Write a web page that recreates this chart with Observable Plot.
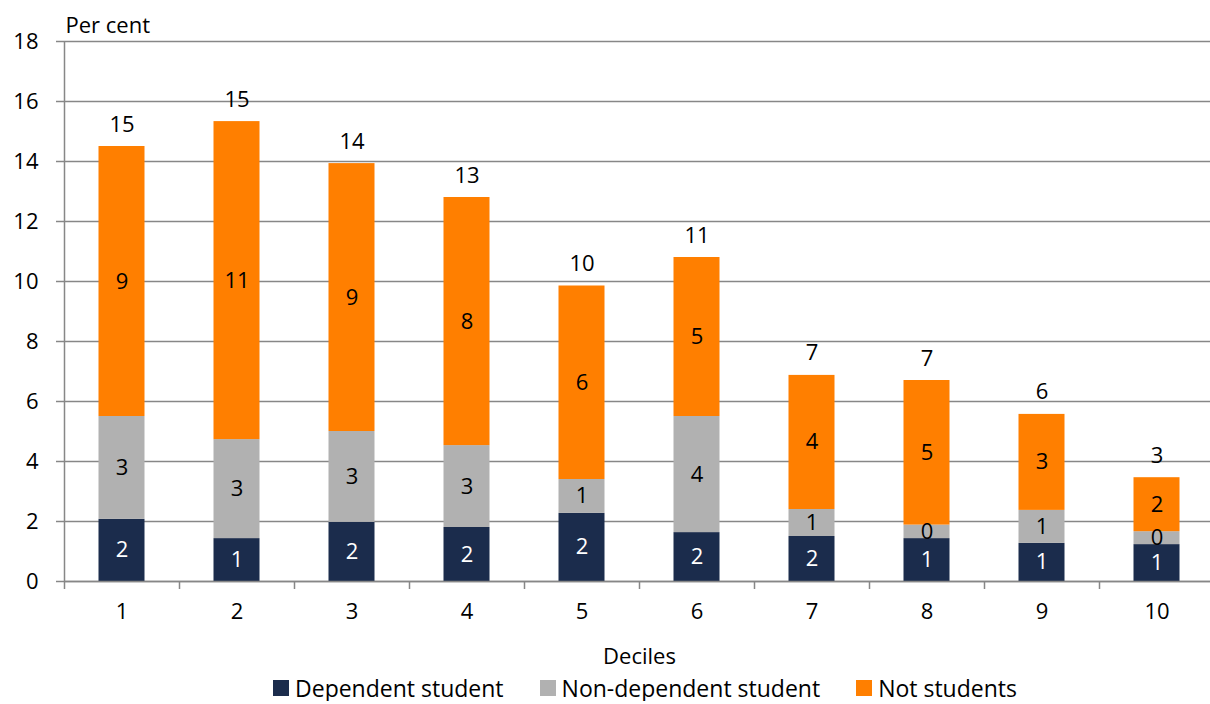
<!DOCTYPE html>
<html>
<head>
<meta charset="utf-8">
<script src="https://cdn.jsdelivr.net/npm/d3@7"></script>
<script src="https://cdn.jsdelivr.net/npm/@observablehq/plot@0.6"></script>
<style>
  body { margin: 0; background: #fff; font-family: "Open Sans", sans-serif; }
  #legend { display: flex; justify-content: center; gap: 36px; font-size: 23px; line-height: 26px; color: #000; padding-left: 80px; margin-top: 2px; }
  #legend span.item { display: flex; align-items: center; gap: 6px; }
  #legend span.sw { width: 16px; height: 16px; display: inline-block; }
</style>
</head>
<body>
<div id="chart"></div>
<div id="legend"></div>
<script>
const deciles = [1, 2, 3, 4, 5, 6, 7, 8, 9, 10];
const seriesNames = ["Dependent student", "Non-dependent student", "Not students"];
const dependent = [2.07, 1.43, 1.97, 1.8, 2.27, 1.63, 1.5, 1.43, 1.27, 1.23];
const nonDependent = [3.43, 3.3, 3.03, 2.73, 1.13, 3.87, 0.9, 0.45, 1.1, 0.43];
const notStudents = [9.0, 10.6, 8.93, 8.27, 6.45, 5.3, 4.47, 4.82, 3.2, 1.8];
const yTicks = [0, 2, 4, 6, 8, 10, 12, 14, 16, 18];
const colors = ["#1B2C4C", "#B1B1B1", "#FF7F00"];
const labelColors = ["#ffffff", "#000000", "#000000"];

const seriesValues = [dependent, nonDependent, notStudents];
const rows = [];
deciles.forEach((d, i) => {
  let base = 0;
  seriesValues.forEach((vals, s) => {
    rows.push({decile: d, series: seriesNames[s], s, value: vals[i], y1: base, y2: base + vals[i]});
    base += vals[i];
  });
});
const totals = deciles.map((d, i) => ({decile: d, total: dependent[i] + nonDependent[i] + notStudents[i]}));
const half = 0.2;
const boundaries = d3.range(0.5, 11, 1);
const fs = 22;

const chart = Plot.plot({
  width: 1210,
  height: 673,
  marginLeft: 64,
  marginRight: -4,
  marginTop: 41,
  marginBottom: 92,
  style: {fontFamily: "'Open Sans', sans-serif", fontSize: fs + "px", color: "#000"},
  x: {domain: [0.5, 10.5]},
  y: {domain: [0, 18]},
  color: {domain: seriesNames, range: colors},
  marks: [
    Plot.gridY(yTicks, {stroke: "#878787", strokeOpacity: 1, strokeWidth: 1.5}),
    Plot.axisY({ticks: yTicks, tickSize: 8, tickPadding: 18, stroke: "#878787", strokeWidth: 1.5, fontSize: fs, label: null}),
    Plot.ruleX([0.5], {y1: 0, y2: 18, stroke: "#878787", strokeWidth: 1.5}),
    Plot.axisX({ticks: boundaries, tickSize: 8, tickFormat: () => "", stroke: "#878787", strokeWidth: 1.5, label: null}),
    Plot.axisX({ticks: deciles, tickSize: 0, tickPadding: 22, tickFormat: d3.format("d"), fontSize: fs,
      label: "Deciles", labelAnchor: "center", labelArrow: "none", labelOffset: 82}),
    Plot.rect(rows, {x1: d => d.decile - half, x2: d => d.decile + half, y1: "y1", y2: "y2", fill: "series"}),
    Plot.ruleY([0], {stroke: "#878787", strokeWidth: 1.5}),
    Plot.text(rows, {x: "decile", y: d => (d.y1 + d.y2) / 2, text: d => d3.format(".0f")(d.value),
      fill: d => labelColors[d.s], fontSize: fs}),
    Plot.text(totals, {x: "decile", y: "total", text: d => d3.format(".0f")(d.total), dy: -22, fontSize: fs, fill: "#000"}),
    Plot.text(["Per cent"], {frameAnchor: "top-left", dy: -24, dx: 1, textAnchor: "start", fontSize: fs, fill: "#000"})
  ]
});
document.getElementById("chart").appendChild(chart);

const legend = document.getElementById("legend");
seriesNames.forEach((name, i) => {
  const item = document.createElement("span");
  item.className = "item";
  const sw = document.createElement("span");
  sw.className = "sw";
  sw.style.background = colors[i];
  item.appendChild(sw);
  item.appendChild(document.createTextNode(name));
  legend.appendChild(item);
});
</script>
</body>
</html>
